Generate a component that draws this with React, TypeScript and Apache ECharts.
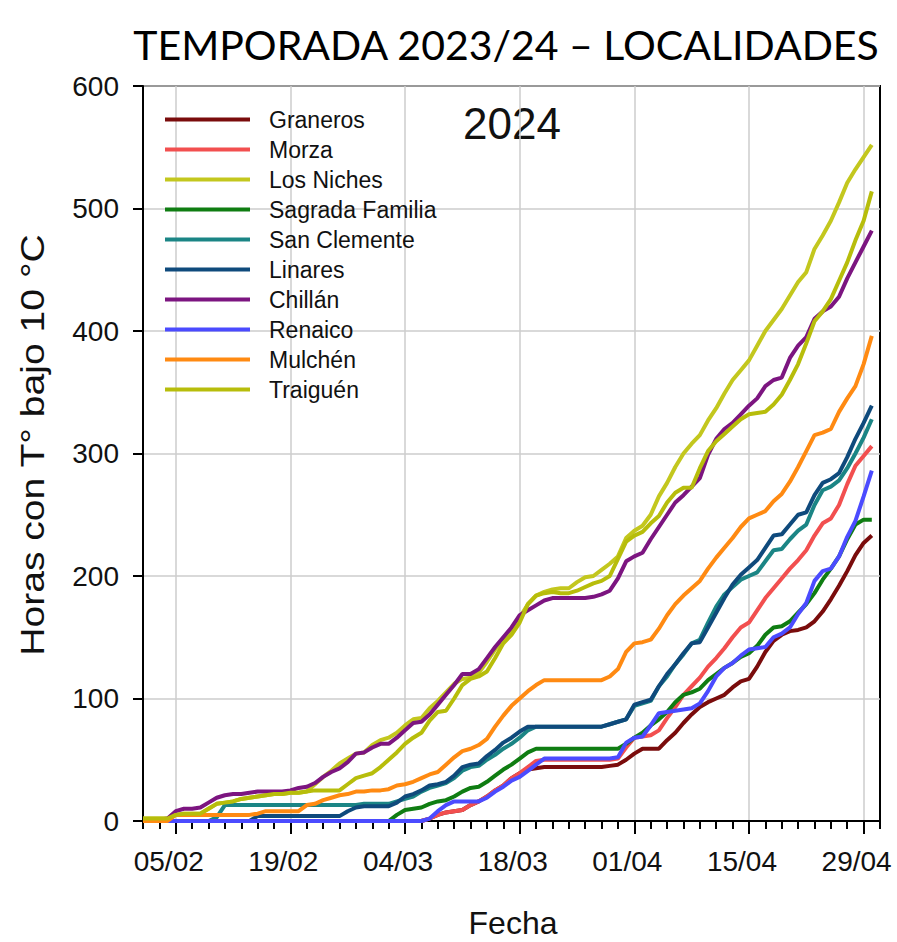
import React, { useEffect, useRef } from 'react';
import * as echarts from 'echarts';

// Categories: Feb 1 .. May 1, 2024
const dates = [
  '01/02','02/02','03/02','04/02','05/02','06/02','07/02','08/02','09/02','10/02',
  '11/02','12/02','13/02','14/02','15/02','16/02','17/02','18/02','19/02','20/02',
  '21/02','22/02','23/02','24/02','25/02','26/02','27/02','28/02','29/02','01/03',
  '02/03','03/03','04/03','05/03','06/03','07/03','08/03','09/03','10/03','11/03',
  '12/03','13/03','14/03','15/03','16/03','17/03','18/03','19/03','20/03','21/03',
  '22/03','23/03','24/03','25/03','26/03','27/03','28/03','29/03','30/03','31/03',
  '01/04','02/04','03/04','04/04','05/04','06/04','07/04','08/04','09/04','10/04',
  '11/04','12/04','13/04','14/04','15/04','16/04','17/04','18/04','19/04','20/04',
  '21/04','22/04','23/04','24/04','25/04','26/04','27/04','28/04','29/04','30/04',
  '01/05',
];
const tickLabels = ['05/02', '19/02', '04/03', '18/03', '01/04', '15/04', '29/04'];

const names = ['Graneros', 'Morza', 'Los Niches', 'Sagrada Familia', 'San Clemente', 'Linares', 'Chillán', 'Renaico', 'Mulchén', 'Traiguén'];
const colors = ['#7a0c0c', '#f24f4f', '#c3c71e', '#0f7d12', '#1b8585', '#0f4a7c', '#7c1580', '#4b4bff', '#ff8a12', '#b7bd0b'];

const graneros = [
  0,0,0,0,0,0,0,0,0,0, 0,0,0,0,0,0,0,0,0,0, 0,0,0,0,0,0,0,0,0,0,
  0,0,0,0,0,2,5,7,8,9, 13,16,20,25,29,35,39,42,43,44, 44,44,44,44,44,44,44,45,46,50,
  55,59,59,59,66,72,80,87,93,97, 100,103,109,114,116,126,138,147,152,155, 156,158,163,171,181,192,204,217,227,233,
];
const morza = [
  0,0,0,0,0,0,0,0,0,0, 0,0,0,0,0,0,0,0,0,0, 0,0,0,0,0,0,0,0,0,0,
  0,0,0,0,0,2,5,7,8,9, 13,16,20,25,29,35,39,44,49,50, 50,50,50,50,50,50,50,50,51,60,
  68,69,70,74,84,93,103,110,117,126, 133,141,150,158,162,172,182,190,198,206, 213,221,233,243,247,258,275,290,298,306,
];
const losNiches = [
  2,2,2,2,5,6,6,6,10,14, 15,16,18,19,20,21,22,22,23,23, 24,30,36,41,47,51,55,56,62,66,
  68,72,78,83,84,92,98,105,112,116, 117,121,130,140,148,155,166,177,184,187, 189,190,190,195,199,200,205,210,216,231,
  237,241,250,265,276,289,300,308,315,327, 337,349,360,368,376,388,400,409,418,429, 440,448,467,478,490,505,521,532,542,552,
];
const sagradaFamilia = [
  0,0,0,0,0,0,0,0,0,0, 0,0,0,0,0,0,0,0,0,0, 0,0,0,0,0,0,0,0,0,0,
  0,5,9,10,11,14,16,17,20,24, 27,28,32,37,42,46,51,56,59,59, 59,59,59,59,59,59,59,59,59,63,
  68,72,78,83,89,97,103,105,108,115, 120,125,129,134,137,143,152,158,159,163, 170,177,186,197,206,216,230,242,246,246,
];
const sanClemente = [
  0,0,0,0,0,0,0,0,0,3, 13,13,13,13,13,13,13,13,13,13, 13,13,13,13,13,13,13,14,14,14,
  14,16,18,20,24,27,29,31,35,41, 44,45,50,54,59,63,68,74,77,77, 77,77,77,77,77,77,77,79,81,83,
  94,96,98,110,118,128,136,145,148,162, 175,185,191,197,200,203,212,221,222,230, 237,242,258,270,273,278,288,300,313,328,
];
const linares = [
  0,0,0,0,0,0,0,0,0,0, 0,0,0,0,4,4,4,4,4,4, 4,4,4,4,4,8,11,12,12,12,
  12,15,20,22,25,29,30,32,37,44, 46,47,53,58,64,68,73,77,77,77, 77,77,77,77,77,77,77,79,81,83,
  95,97,99,110,120,128,137,145,146,158, 170,182,193,201,207,213,223,233,234,242, 250,252,266,276,279,284,297,312,325,339,
];
const chillan = [
  1,1,1,2,8,10,10,11,15,19, 21,22,22,23,24,24,24,24,25,27, 28,31,36,40,43,48,55,56,60,63,
  63,68,74,80,81,87,95,103,111,120, 120,124,133,142,150,158,168,172,176,180, 182,182,182,182,182,183,185,188,198,212,
  216,219,230,240,250,260,266,273,280,299, 312,320,325,332,339,345,355,360,362,378, 388,395,410,416,420,428,443,456,469,482,
];
const renaico = [
  0,0,0,0,0,0,0,0,0,0, 0,0,0,0,0,0,0,0,0,0, 0,0,0,0,0,0,0,0,0,0,
  0,0,0,0,0,2,8,13,16,16, 16,16,19,24,28,33,36,41,46,51, 51,51,51,51,51,51,51,51,52,64,
  68,69,78,88,89,90,91,92,96,106, 118,125,129,135,140,141,142,150,153,158, 169,178,196,204,206,216,232,245,265,286,
];
const mulchen = [
  0,0,0,0,5,5,5,5,5,5, 5,5,5,5,6,8,8,8,8,8, 13,14,17,19,21,22,24,24,25,25,
  26,29,30,32,35,38,40,46,52,57, 59,62,67,77,86,94,100,106,111,115, 115,115,115,115,115,115,115,118,124,138,
  145,146,148,157,168,177,184,190,196,206, 215,223,231,240,247,250,253,261,267,277, 289,302,315,317,320,334,345,355,373,396,
];
const traiguen = [
  2,2,2,2,5,6,6,6,10,14, 15,16,18,19,20,21,22,22,23,23, 24,25,25,25,25,30,35,37,39,44,
  50,56,63,68,72,82,89,90,100,111, 116,118,122,133,145,152,162,177,184,186, 187,186,186,188,191,194,196,200,214,228,
  233,236,243,249,260,268,272,272,288,302, 310,316,322,328,332,333,334,340,348,360, 373,390,408,416,426,441,456,474,490,514,
];

const seriesValues = [graneros, morza, losNiches, sagradaFamilia, sanClemente, linares, chillan, renaico, mulchen, traiguen];

const SANS = '"Liberation Sans", Arial, sans-serif';

export default function App() {
  const ref = useRef<HTMLDivElement>(null);

  useEffect(() => {
    if (!ref.current) return;
    const chart = echarts.init(ref.current, null, { renderer: 'svg' });
    const isMajor = (i: number) => tickLabels.indexOf(dates[i]) >= 0;

    const option: any = {
      animation: false,
      backgroundColor: '#ffffff',
      grid: {
        left: 143, right: 17, top: 86, bottom: 121,
        show: true, borderColor: '#000', borderWidth: 2, backgroundColor: 'transparent',
      },
      xAxis: [
        {
          type: 'category',
          data: dates,
          boundaryGap: false,
          position: 'bottom',
          axisLine: { lineStyle: { color: '#000', width: 2 } },
          axisTick: { interval: (i: number) => isMajor(i), length: 13, lineStyle: { color: '#000', width: 2 } },
          axisLabel: {
            interval: (i: number) => isMajor(i),
            color: '#111', fontSize: 28, fontFamily: SANS, margin: 26, padding: [0, 14, 0, 0],
          },
          splitLine: { show: true, interval: (i: number) => isMajor(i), lineStyle: { color: '#cccccc', width: 1.5 } },
        },
        {
          type: 'category',
          data: dates,
          boundaryGap: false,
          position: 'top',
          offset: -735,
          axisLine: { show: false },
          axisTick: { show: true, inside: true, interval: (i: number) => i % 2 === 0, length: 8, lineStyle: { color: '#000', width: 2 } },
          axisLabel: { show: false },
          splitLine: { show: false },
        },
      ],
      yAxis: {
        type: 'value',
        min: 0, max: 600, interval: 100,
        axisLine: { show: true, lineStyle: { color: '#000', width: 2 } },
        axisTick: { show: true, length: 10, lineStyle: { color: '#000', width: 2 } },
        axisLabel: { color: '#111', fontSize: 28, fontFamily: SANS, margin: 24 },
        splitLine: { show: true, lineStyle: { color: '#cccccc', width: 1.5 } },
      },
      legend: {
        orient: 'vertical',
        left: 163, top: 108, padding: 0,
        itemWidth: 85, itemHeight: 23, itemGap: 7,
        data: names,
        textStyle: { color: '#111', fontSize: 23, fontFamily: SANS, lineHeight: 23, padding: [0, 0, 0, 14] },
        lineStyle: { width: 4 },
        itemStyle: { opacity: 0, borderWidth: 0 },
      },
      series: names.map((n, k) => ({
        name: n,
        type: 'line',
        xAxisIndex: 0,
        data: seriesValues[k],
        symbol: 'none',
        lineStyle: { color: colors[k], width: 4 },
        itemStyle: { color: colors[k] },
        z: 3 + k,
      })),
      graphic: [
        {
          type: 'text', x: 506, y: 44,
          style: { text: 'TEMPORADA 2023/24 – LOCALIDADES', fill: '#000', fontSize: 41, fontFamily: 'Lato, "Open Sans", sans-serif', align: 'center', verticalAlign: 'middle', textAlign: 'center', textVerticalAlign: 'middle' },
        },
        {
          type: 'text', x: 512, y: 123,
          style: { text: '2024', fill: '#111', fontSize: 44, fontFamily: SANS, align: 'center', verticalAlign: 'middle', textAlign: 'center', textVerticalAlign: 'middle' },
        },
        {
          type: 'text', x: 32, y: 445, rotation: Math.PI / 2, scaleX: 1.15,
          style: { text: 'Horas con T° bajo 10 °C', fill: '#111', fontSize: 34, fontFamily: SANS, align: 'center', verticalAlign: 'middle', textAlign: 'center', textVerticalAlign: 'middle' },
        },
        {
          type: 'text', x: 513, y: 923,
          style: { text: 'Fecha', fill: '#111', fontSize: 32, fontFamily: SANS, align: 'center', verticalAlign: 'middle', textAlign: 'center', textVerticalAlign: 'middle' },
        },
      ],
    };

    chart.setOption(option);
    return () => chart.dispose();
  }, []);

  return (
    <div
      ref={ref}
      style={{ position: 'absolute', left: 0, top: 0, width: 897, height: 942, background: '#fff' }}
    />
  );
}
